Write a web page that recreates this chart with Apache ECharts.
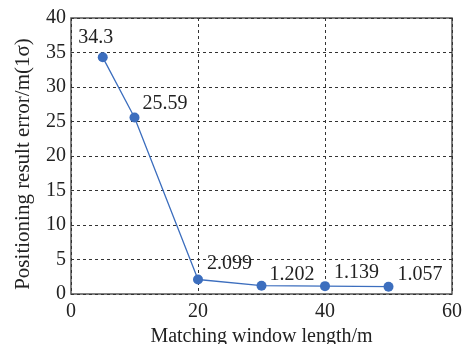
<!DOCTYPE html>
<html>
<head>
<meta charset="utf-8">
<script src="https://cdn.jsdelivr.net/npm/echarts@6/dist/echarts.min.js"></script>
<style>
  html, body { margin: 0; padding: 0; background: #fff; }
  #chart { width: 466px; height: 344px; }
</style>
</head>
<body>
<div id="chart"></div>
<script>
// window length (m) and positioning error (m, 1 sigma)
const windowLengths = [5, 10, 20, 30, 40, 50];
const errors = [34.3, 25.59, 2.099, 1.202, 1.139, 1.057];
const errorLabels = ['34.3', '25.59', '2.099', '1.202', '1.139', '1.057'];

const font = '"Liberation Serif", "DejaVu Serif", serif';
const blue = '#3c6ebe';

// label placement per point
const labelPos = [
  { position: 'top', offset: [-7, 0] },
  { position: 'right', offset: [-2, -14] },
  { position: 'right', offset: [-1, -16] },
  { position: 'right', offset: [-2, -11] },
  { position: 'right', offset: [-1, -13] },
  { position: 'right', offset: [-1, -12] },
];

const chart = echarts.init(document.getElementById('chart'));
chart.setOption({
  animation: false,
  grid: {
    left: 71, right: 14, top: 18, bottom: 50,
    containLabel: false, outerBoundsMode: 'none',
    show: true, borderColor: '#555', borderWidth: 1.5,
  },
  xAxis: {
    type: 'value', min: 0, max: 60, interval: 20,
    name: 'Matching window length/m',
    nameLocation: 'middle', nameGap: 31,
    nameTextStyle: { fontFamily: font, fontSize: 20, color: '#222' },
    axisLine: { show: false },
    axisTick: { show: false },
    axisLabel: { fontFamily: font, fontSize: 20, color: '#222', margin: 8 },
    splitLine: { lineStyle: { color: '#333', type: [3, 3], width: 1 } },
  },
  yAxis: {
    type: 'value', min: 0, max: 40, interval: 5,
    name: 'Positioning result error/m(1σ)',
    nameLocation: 'middle', nameGap: 37,
    nameTextStyle: {
      fontFamily: font, fontSize: 21, color: '#222',
      padding: [0, 16, 0, 0],
    },
    axisLine: { show: false },
    axisTick: { show: false },
    axisLabel: { fontFamily: font, fontSize: 20, color: '#222', margin: 5 },
    splitLine: { lineStyle: { color: '#333', type: [3, 3], width: 1 } },
  },
  series: [{
    type: 'line',
    data: windowLengths.map((x, i) => ({
      value: [x, errors[i]],
      label: Object.assign({ formatter: errorLabels[i] }, labelPos[i]),
    })),
    symbol: 'circle',
    symbolSize: 10,
    itemStyle: { color: blue },
    lineStyle: { color: blue, width: 1.3 },
    label: {
      show: true,
      fontFamily: font, fontSize: 20, color: '#222',
    },
  }],
});
</script>
</body>
</html>
